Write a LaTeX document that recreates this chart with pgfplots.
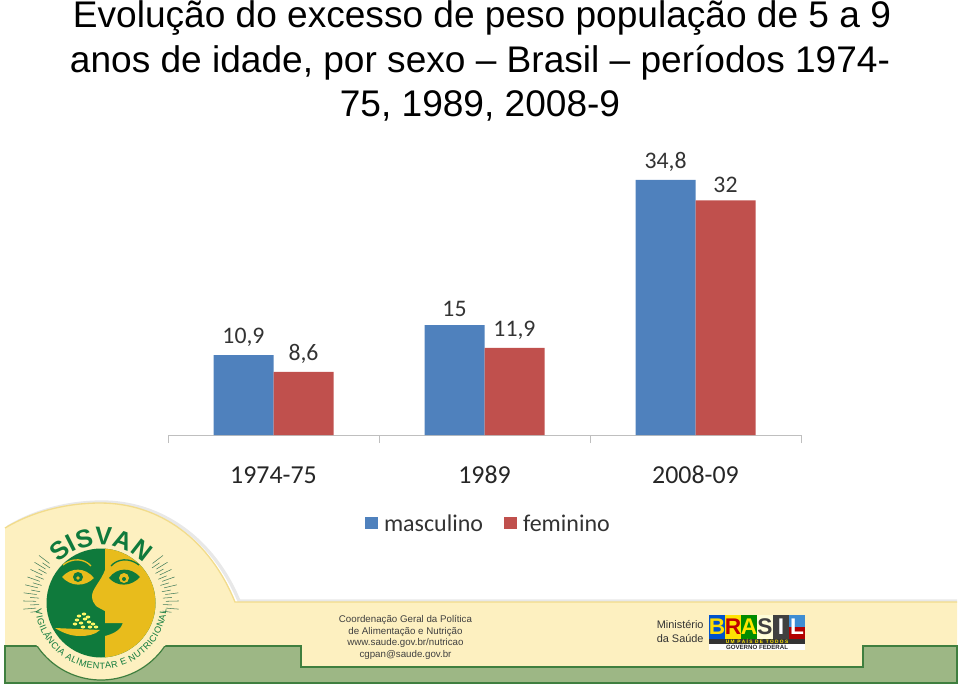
\documentclass[border=0pt]{standalone}
\usepackage{fontspec}
\setmainfont{Liberation Sans}
\newfontfamily\carl{Carlito}
\usepackage{pgfplots}
\pgfplotsset{compat=1.18}
\usetikzlibrary{decorations.text}
\definecolor{mblue}{HTML}{4F81BD}
\definecolor{mred}{HTML}{C0504D}
\definecolor{cream}{HTML}{FDF0C0}
\definecolor{creamline}{HTML}{F2DC8C}
\definecolor{band}{HTML}{9DB785}
\definecolor{bandline}{HTML}{3F7F3F}
\definecolor{lgreen}{HTML}{0F7A3C}
\definecolor{lyellow}{HTML}{E8BC1C}
\begin{document}
\begin{tikzpicture}
\path[use as bounding box] (0,0) rectangle (720pt,-514.5pt);
\begin{scope}[x=0.75pt,y=-0.75pt]
% footer shape
\draw[gray!18,line width=2.5pt] (8,527) .. controls (38,509) and (72,502) .. (102,502) .. controls (162,502) and (214,540) .. (239,601) -- (957,601);
\fill[cream] (5,528) .. controls (35,510) and (70,503) .. (100,503) .. controls (160,503) and (210,540) .. (235,602) -- (957,602) -- (957,683) -- (5,683) -- cycle;
\draw[creamline,line width=1pt] (5,528) .. controls (35,510) and (70,503) .. (100,503) .. controls (160,503) and (210,540) .. (235,602) -- (957,602);
\draw[bandline,line width=0.9pt,fill=band] (5,646) -- (301,646) -- (301,667) -- (863,667) -- (863,646) -- (957,646) -- (957,683) -- (5,683) -- cycle;
% footer text
\node[font=\fontsize{7.3pt}{8.6pt}\selectfont,text=black!75,align=center] at (405.5,637.5) {Coordenação Geral da Política\\de Alimentação e Nutrição\\www.saude.gov.br/nutricao\\cgpan@saude.gov.br};
\node[font=\fontsize{8.2pt}{9.8pt}\selectfont,text=black!80,align=left,anchor=west,inner sep=0] at (656.5,631.5) {Ministério\\da Saúde};
% Brasil logo
\fill[white] (709,615) rectangle (805,650);
\fill[blue!60!cyan!80!black] (709,615) rectangle (725,639);
\fill[yellow!85!orange] (725,615) rectangle (741,639);
\fill[green!55!black] (741,615) rectangle (757,639);
\fill[white!85!yellow] (757,615) rectangle (773,639);
\fill[black!75] (773,615) rectangle (789,639);
\fill[cyan!60!blue!80] (789,615) rectangle (805,627);
\fill[red!70!black] (789,627) rectangle (805,639);
\node[font=\fontsize{17pt}{17pt}\selectfont\bfseries,inner sep=0] at (717,627) {\textcolor{yellow!80!orange}{B}};
\node[font=\fontsize{17pt}{17pt}\selectfont\bfseries,inner sep=0] at (733,627) {\textcolor{red!75!black}{R}};
\node[font=\fontsize{17pt}{17pt}\selectfont\bfseries,inner sep=0] at (749,627) {\textcolor{yellow!90!orange}{A}};
\node[font=\fontsize{17pt}{17pt}\selectfont\bfseries,inner sep=0] at (765,627) {\textcolor{black!75}{S}};
\node[font=\fontsize{17pt}{17pt}\selectfont\bfseries,inner sep=0] at (781,627) {\textcolor{white}{I}};
\node[font=\fontsize{17pt}{17pt}\selectfont\bfseries,inner sep=0] at (797,627) {\textcolor{white}{L}};
\fill[black!80] (709,639) rectangle (805,644);
\node[font=\fontsize{3.6pt}{4pt}\selectfont\bfseries,text=yellow!90!orange,inner sep=0] at (757,641.5) {U M\ \ P A Í S\ \ D E\ \ T O D O S};
\node[font=\fontsize{4.6pt}{5pt}\selectfont\bfseries,text=black!85,inner sep=0] at (757,647) {GOVERNO FEDERAL};
% title
\node[font=\fontsize{27.8pt}{30pt}\selectfont,inner sep=0,anchor=base] at (482,27) {Evolução do excesso de peso população de 5 a 9};
\node[font=\fontsize{27.8pt}{30pt}\selectfont,inner sep=0,anchor=base] at (480,72) {anos de idade, por sexo -- Brasil -- períodos 1974-};
\node[font=\fontsize{27.8pt}{30pt}\selectfont,inner sep=0,anchor=base] at (480,116) {75, 1989, 2008-9};
\end{scope}
% logo
\begin{scope}[shift={(75.75pt,-452.25pt)},x=0.75pt,y=0.75pt]
\fill[cream] (0,0) circle (77);
\begin{scope}
\clip (-90,-43) rectangle (90,-90);
\draw[bandline,line width=0.9pt] (0,0) circle (77);
\end{scope}
\fill[lgreen] (0,0) circle (54.5);
\begin{scope}
\clip (0,0) circle (54.5);
\fill[lyellow] (4,56) -- (4,33) .. controls (0,22) and (-9,14) .. (-9,7) .. controls (-9,2) and (-7,0) .. (-5,-3) .. controls (-2,-5) and (2,-7) .. (4,-8) -- (4,-20) -- (22,-20) .. controls (20,-27) and (12,-31) .. (4,-33) -- (4,-56) -- (60,-56) -- (60,56) -- cycle;
\fill[lyellow] (-46,-25) -- (-1,-27) .. controls (-6,-32) and (-14,-33) .. (-21,-33) .. controls (-30,-33) and (-38,-30) .. (-46,-25);
\end{scope}
% food
\foreach \p/\r in {-24/-17,-20/-20,-16/-16,-12/-19,-8/-21,-22/-13,-17/-11,-13/-14,-26/-21,-18/-24,-11/-24,-5/-24}{
 \fill[yellow!60!white] (\p,\r) ellipse (2.3 and 1.5);}
% eyes
\fill[lyellow] (-39,26) .. controls (-30,36) and (-16,36) .. (-7,25) .. controls (-16,16) and (-30,16) .. (-39,26);
\fill[lgreen] (-23,26) circle (5);
\fill[lyellow] (-23,25) circle (1.8);
\draw[lyellow,line width=1pt] (-38,38) .. controls (-28,46) and (-16,44) .. (-10,37);
\fill[lgreen] (8,25) .. controls (16,36) and (30,36) .. (39,26) .. controls (30,16) and (16,16) .. (8,25);
\fill[lyellow] (23,25) circle (5);
\fill[lgreen] (23,24) circle (2);
\draw[lgreen,line width=1pt] (10,37) .. controls (16,44) and (28,46) .. (38,38);
% rays
\foreach \a in {-6,0,...,36}{
 \draw[lgreen!55!gray,line width=0.4pt] (\a-1.5:62) -- (\a-1.5:71);
 \draw[lgreen!55!gray,line width=0.4pt] (\a+1.5:65) -- (\a+1.5:78);
 \draw[lgreen!55!gray,line width=0.4pt] (180-\a+1.5:62) -- (180-\a+1.5:71);
 \draw[lgreen!55!gray,line width=0.4pt] (180-\a-1.5:65) -- (180-\a-1.5:78);
}
% arc text
\path[decorate,decoration={text along path,text align={fit to path},text={|\fontsize{19pt}{19pt}\selectfont\bfseries\color{lgreen}|SISVAN}}] (137:58) arc (137:43:58);
\path[decorate,decoration={text along path,text align={fit to path},text={|\fontsize{6.8pt}{8pt}\selectfont\color{lgreen}|VIGILÂNCIA ALIMENTAR E NUTRICIONAL}}] (186:66) arc (186:354:66);
\end{scope}
% chart
\begin{axis}[
 at={(126pt,-326.25pt)},anchor=south west,
 scale only axis,width=474.75pt,height=208.9pt,
 ybar=0pt,bar width=45pt,
 xmin=-0.5,xmax=2.5,ymin=0,ymax=38,
 axis x line*=bottom,axis y line=none,
 axis line style={draw=black!25,line width=0.7pt},
 xtick={0,1,2},xticklabels={1974-75,1989,2008-09},
 minor xtick={-0.5,0.5,1.5,2.5},
 major tick length=0pt,minor tick length=6pt,
 tick align=outside,
 minor tick style={draw=black!25,line width=0.7pt},
 xticklabel style={font=\carl\fontsize{19.4pt}{19pt}\selectfont,text=black!85,text height=13pt,text depth=0pt,yshift=-20pt},
 nodes near coords,
 nodes near coords style={font=\carl\fontsize{17.8pt}{18pt}\selectfont,text=black!80,inner sep=1pt,yshift=5pt,/pgf/number format/use comma,/pgf/number format/fixed,/pgf/number format/assume math mode=true},
 legend style={at={(0.507,-0.32)},anchor=center,draw=none,fill=none,legend columns=2,font=\carl\fontsize{18pt}{18pt}\selectfont,text=black!80,/tikz/every even column/.append style={column sep=14pt},nodes={text height=11pt,text depth=0pt}},
 legend image code/.code={\fill[#1] (0cm,-0.14cm) rectangle (0.34cm,0.2cm);\path (0.42cm,0cm);},
]
\addplot[fill=mblue,draw=none] coordinates {(0,10.9) (1,15) (2,34.8)};
\addplot[fill=mred,draw=none] coordinates {(0,8.6) (1,11.9) (2,32)};
\legend{masculino,feminino}
\end{axis}
\end{tikzpicture}
\end{document}
